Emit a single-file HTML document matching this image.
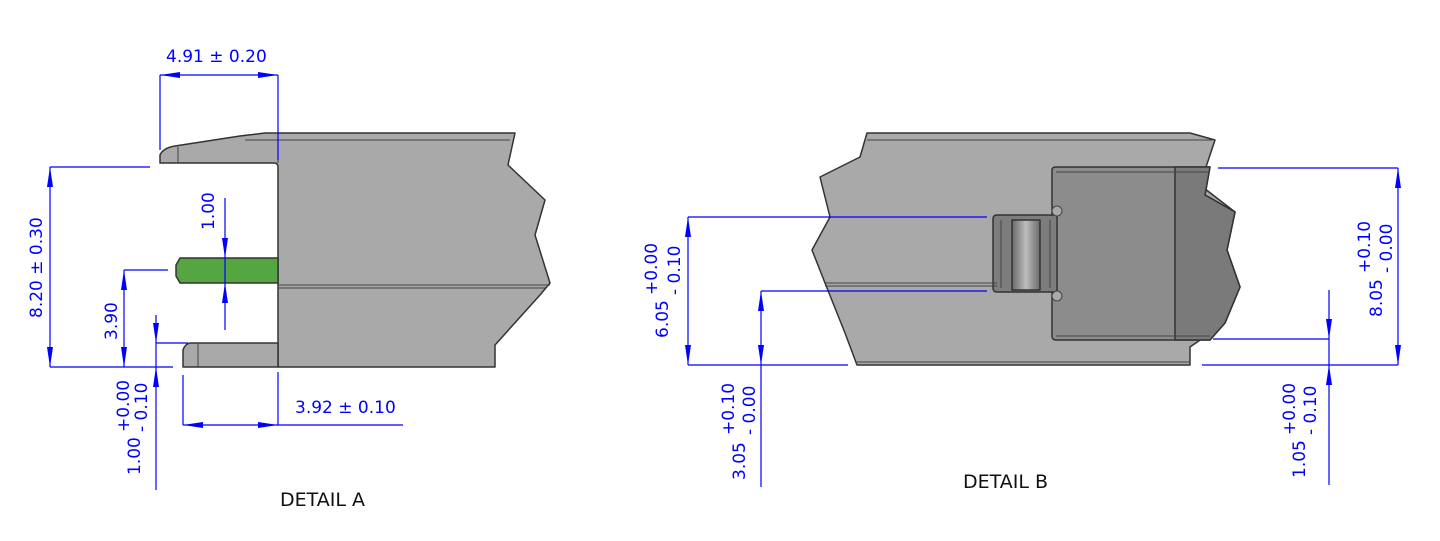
<!DOCTYPE html>
<html><head><meta charset="utf-8"><style>
html,body{margin:0;padding:0;background:#fff;width:1440px;height:541px;overflow:hidden}
svg text{font-family:"DejaVu Sans","Liberation Sans",sans-serif;fill:#0000ff;font-size:17px}
</style></head><body>
<svg width="1440" height="541" viewBox="0 0 1440 541" xmlns="http://www.w3.org/2000/svg">
<defs>
<marker id="a" viewBox="0 0 20 6" refX="20" refY="3" markerWidth="20" markerHeight="6" markerUnits="userSpaceOnUse" orient="auto"><path d="M0,0 L20,3 L0,6 z" fill="#0000ff"/></marker>
<linearGradient id="cyl" x1="0" x2="1" y1="0" y2="0"><stop offset="0" stop-color="#6a6a6a"/><stop offset="0.5" stop-color="#bdbdbd"/><stop offset="1" stop-color="#6a6a6a"/></linearGradient>
</defs>
<g stroke="#333" stroke-width="1.5" stroke-linejoin="round">
<path d="M160,163 L160,155 Q163,148 175,146 L240,136 L265,133 L515,133 L508,165 L545,200 L535,235 L550,283 L540,295 L495,345 L495,367 L278,367 L278,167 Q278,163 274,163 Z" fill="#a9a9a9"/>
<path d="M183,367 L183,350 Q185,344 190,343 L278,343 L278,367 Z" fill="#a9a9a9"/>
<path d="M176,265 L180,258 L278,258 L278,283 L180,283 L176,276 Z" fill="#55a540"/>
</g>
<g stroke="#444" stroke-width="1" fill="none">
<path d="M178,147 L178,163 M245,140 L510,140 M278,140 L278,163 M278,285 L550,285 M278,288 L545,288 M198,343 L198,367"/>
</g>
<g stroke="#333" stroke-width="1.5" stroke-linejoin="round">
<path d="M867,133 L1190,133 L1215,140 L1200,185 L1235,212 L1227,250 L1240,287 L1225,323 L1190,347 L1190,365 L857,365 L845,333 L825,283 L812,250 L830,217 L820,177 L860,157 Z" fill="#a9a9a9"/>
<path d="M1052,170 Q1052,167 1056,167 L1210,167 L1205,195 L1235,212 L1227,250 L1240,287 L1225,323 L1210,340 L1056,340 Q1052,340 1052,336 Z" fill="#8c8c8c"/>
<path d="M1175,167 L1210,167 L1205,195 L1235,212 L1227,250 L1240,287 L1225,323 L1210,340 L1175,340 Z" fill="#7a7a7a"/>
<path d="M997,215 L1057,215 L1057,292 L997,292 Q993,292 993,288 L993,219 Q993,215 997,215 Z" fill="#7d7d7d"/>
<path d="M1012,220 L1040,220 L1040,290 L1012,290 Z" fill="url(#cyl)"/>
</g>
<g stroke="#444" stroke-width="1" fill="none">
<path d="M867,140 L1212,140 M825,283 L997,283 M825,286 L997,286 M857,362 L1190,362 M1001,220 L1001,288 M1050,220 L1050,288 M1056,172 L1210,172 M1056,336 L1210,336"/>
<circle cx="1057" cy="211" r="5" fill="#a9a9a9"/><circle cx="1057" cy="296" r="5" fill="#a9a9a9"/>
</g>
<g stroke="#0000ff" stroke-width="1.2" fill="none">
<path d="M160,75 L160,150 M278,75 L278,160"/>
<path d="M219,75 L160,75" marker-end="url(#a)"/><path d="M219,75 L278,75" marker-end="url(#a)"/>
<path d="M50,167 L150,167 M50,367 L173,367"/>
<path d="M50,267 L50,167" marker-end="url(#a)"/><path d="M50,267 L50,367" marker-end="url(#a)"/>
<path d="M124,270 L168,270"/>
<path d="M124,318 L124,270" marker-end="url(#a)"/><path d="M124,318 L124,367" marker-end="url(#a)"/>
<path d="M225,198 L225,258" marker-end="url(#a)"/><path d="M225,330 L225,283" marker-end="url(#a)"/><path d="M225,258 L225,283"/>
<path d="M156,343 L188,343"/>
<path d="M156,315 L156,343" marker-end="url(#a)"/><path d="M156,490 L156,367" marker-end="url(#a)"/><path d="M156,343 L156,367"/>
<path d="M183,375 L183,425 M278,372 L278,425 L403,425"/>
<path d="M230,425 L183,425" marker-end="url(#a)"/><path d="M230,425 L278,425" marker-end="url(#a)"/>
<path d="M688,217 L987,217 M688,365 L848,365"/>
<path d="M688,291 L688,217" marker-end="url(#a)"/><path d="M688,291 L688,365" marker-end="url(#a)"/>
<path d="M761,291 L987,291"/>
<path d="M761,330 L761,291" marker-end="url(#a)"/><path d="M761,330 L761,365" marker-end="url(#a)"/><path d="M761,365 L761,487"/>
<path d="M1218,168 L1398,168 M1202,365 L1398,365"/>
<path d="M1398,266 L1398,168" marker-end="url(#a)"/><path d="M1398,266 L1398,365" marker-end="url(#a)"/>
<path d="M1213,339 L1329,339"/>
<path d="M1329,290 L1329,339" marker-end="url(#a)"/><path d="M1329,485 L1329,365" marker-end="url(#a)"/><path d="M1329,339 L1329,365"/>
</g>
<text x="166" y="62">4.91 ± 0.20</text>
<text x="295" y="413">3.92 ± 0.10</text>
<text transform="translate(42,318) rotate(-90)">8.20 ± 0.30</text>
<text transform="translate(117,340) rotate(-90)">3.90</text>
<text transform="translate(214,230) rotate(-90)">1.00</text>
<text transform="translate(140,475) rotate(-90)">1.00</text>
<text transform="translate(129,432) rotate(-90)" font-size="16">+0.00</text>
<text transform="translate(147,432) rotate(-90)" font-size="16">- 0.10</text>
<text transform="translate(668,338) rotate(-90)">6.05</text>
<text transform="translate(657,295) rotate(-90)" font-size="16">+0.00</text>
<text transform="translate(680,295) rotate(-90)" font-size="16">- 0.10</text>
<text transform="translate(745,480) rotate(-90)">3.05</text>
<text transform="translate(734,435) rotate(-90)" font-size="16">+0.10</text>
<text transform="translate(755,435) rotate(-90)" font-size="16">- 0.00</text>
<text transform="translate(1382,317) rotate(-90)">8.05</text>
<text transform="translate(1370,273) rotate(-90)" font-size="16">+0.10</text>
<text transform="translate(1392,273) rotate(-90)" font-size="16">- 0.00</text>
<text transform="translate(1305,478) rotate(-90)">1.05</text>
<text transform="translate(1295,435) rotate(-90)" font-size="16">+0.00</text>
<text transform="translate(1316,435) rotate(-90)" font-size="16">- 0.10</text>
<text x="280" y="506" style="fill:#111;font-size:19px">DETAIL A</text>
<text x="963" y="488" style="fill:#111;font-size:19px">DETAIL B</text>
</svg>
</body></html>
